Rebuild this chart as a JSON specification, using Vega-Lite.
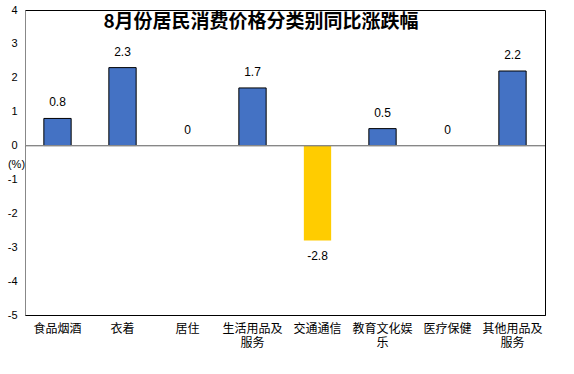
{
  "$schema": "https://vega.github.io/schema/vega-lite/v6.json",
  "width": 520,
  "height": 305,
  "autosize": {"type": "none"},
  "padding": {"top": 10, "left": 25, "right": 29, "bottom": 59},
  "background": "white",
  "title": {
    "text": "8月份居民消费价格分类别同比涨跌幅",
    "font": "Noto Sans CJK SC",
    "fontSize": 19,
    "fontWeight": "bold",
    "color": "black",
    "anchor": "middle",
    "baseline": "top",
    "offset": 0,
    "dx": -24,
    "dy": 28
  },
  "config": {
    "locale": {"number": {"decimal": ".", "thousands": ",", "grouping": [3], "currency": ["", ""], "minus": "-"}},
    "view": {"stroke": "black", "strokeWidth": 1},
    "axis": {"grid": false, "ticks": false}
  },
  "data": {
    "values": [
      {"category": "食品烟酒", "value": 0.8},
      {"category": "衣着", "value": 2.3},
      {"category": "居住", "value": 0},
      {"category": "生活用品及服务", "value": 1.7},
      {"category": "交通通信", "value": -2.8},
      {"category": "教育文化娱乐", "value": 0.5},
      {"category": "医疗保健", "value": 0},
      {"category": "其他用品及服务", "value": 2.2}
    ]
  },
  "encoding": {
    "x": {
      "field": "category",
      "type": "nominal",
      "sort": null,
      "scale": {"paddingInner": 0.58, "paddingOuter": 0.29},
      "axis": {
        "title": null,
        "orient": "bottom",
        "labelAngle": 0,
        "labelFont": "Noto Sans CJK SC",
        "labelFontSize": 12,
        "labelColor": "black",
        "labelPadding": 8,
        "labelLineHeight": 14,
        "domainColor": "black",
        "labelExpr": "datum.label == '生活用品及服务' ? ['生活用品及','服务'] : datum.label == '教育文化娱乐' ? ['教育文化娱','乐'] : datum.label == '其他用品及服务' ? ['其他用品及','服务'] : datum.label"
      }
    },
    "y": {
      "field": "value",
      "type": "quantitative",
      "scale": {"domain": [-5, 4], "nice": false, "zero": false},
      "axis": {
        "values": [-5, -4, -3, -2, -1, 0, 1, 2, 3, 4],
        "title": "(%)",
        "titleAngle": 0,
        "titleFont": "Liberation Sans",
        "titleFontSize": 11,
        "titleFontWeight": "normal",
        "titleColor": "black",
        "titleX": -9,
        "titleY": 154,
        "titleAlign": "center",
        "titleBaseline": "middle",
        "labelFont": "Liberation Sans",
        "labelFontSize": 11,
        "labelColor": "black",
        "labelPadding": 8,
        "domainColor": "#888888"
      }
    }
  },
  "layer": [
    {
      "mark": {"type": "bar", "stroke": "black", "strokeWidth": 1},
      "encoding": {
        "color": {
          "condition": {"test": "datum.value < 0", "value": "#FFCC00"},
          "value": "#4472C4"
        },
        "strokeOpacity": {
          "condition": {"test": "datum.value <= 0", "value": 0},
          "value": 1
        }
      }
    },
    {
      "mark": {"type": "rule", "color": "#888888", "strokeWidth": 1},
      "encoding": {"y": {"datum": 0}, "x": null}
    },
    {
      "transform": [{"filter": "datum.value >= 0"}],
      "mark": {"type": "text", "font": "Liberation Sans", "fontSize": 12, "color": "black", "baseline": "middle", "dy": -16},
      "encoding": {"text": {"field": "value", "type": "quantitative"}}
    },
    {
      "transform": [{"filter": "datum.value < 0"}],
      "mark": {"type": "text", "font": "Liberation Sans", "fontSize": 12, "color": "black", "baseline": "middle", "dy": 16},
      "encoding": {"text": {"field": "value", "type": "quantitative"}}
    }
  ]
}
